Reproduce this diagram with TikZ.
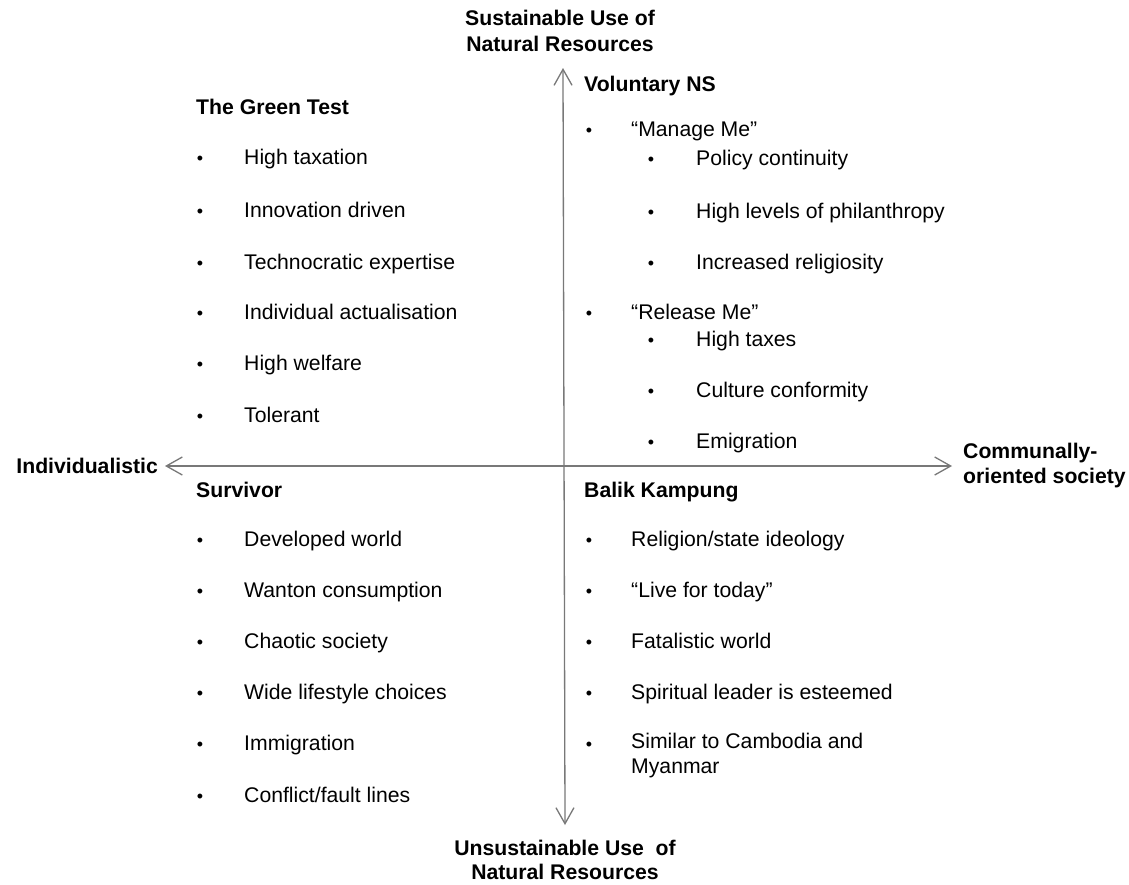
\documentclass[tikz,border=0pt]{standalone}
\usepackage{fontspec}
\setmainfont{Liberation Sans}
\usetikzlibrary{arrows.meta}
\definecolor{axisgray}{RGB}{120,120,120}
\newcommand{\txtfont}{\fontsize{21.2}{25}\selectfont}
\newcommand{\hdfont}{\fontsize{21.2}{25}\selectfont\bfseries}
\begin{document}
\begin{tikzpicture}[x=1pt,y=-1pt,
  axis/.style={draw=axisgray, line width=1.3pt,
     {Straight Barb[length=16pt,width=18pt]}-{Straight Barb[length=16pt,width=18pt]}},
  itm/.style={anchor=base west, inner sep=0pt, font=\txtfont},
  hd/.style={anchor=base west, inner sep=0pt, font=\hdfont},
  bul/.style={anchor=base, inner sep=0pt, font=\fontsize{18}{20}\selectfont},
  axlab/.style={inner sep=0pt, align=center}]
\useasboundingbox (0,0) rectangle (1129,884);
\fill[white] (0,0) rectangle (1129,884);

% axes
\coordinate (top) at (563,68);
\coordinate (bot) at (565,825);
\coordinate (lft) at (165,466);
\coordinate (rgt) at (952,466);
\draw[axis] (bot) -- (top);
\draw[axis] (lft) -- (rgt);

% axis labels
\node[axlab, anchor=center, font=\fontsize{21.2}{26}\selectfont\bfseries] (toplab) at (560,31) {Sustainable Use of\\Natural Resources};
\node[axlab, anchor=center, font=\fontsize{21.2}{24}\selectfont\bfseries] (botlab) at (565,860) {Unsustainable Use\ \ of\\Natural Resources};
\node[hd, anchor=base east] (leftlab) at (158,473) {Individualistic};
\node[inner sep=0pt, anchor=west, align=left, font=\fontsize{21.2}{25}\selectfont\bfseries] (rightlab) at (963,466) {Communally-\\oriented society};

% Top-left quadrant
\node[hd] (gt) at (196,114) {The Green Test};
\foreach \y/\t [count=\i] in {164/High taxation, 217/Innovation driven, 269/Technocratic expertise, 319/Individual actualisation, 370/High welfare, 422/Tolerant}{
  \node[bul] (gtb\i) at (200,\y) {•};
  \node[itm] (gti\i) at (244,\y) {\t};
}

% Bottom-left quadrant
\node[hd] (sv) at (196,497) {Survivor};
\foreach \y/\t [count=\i] in {546/Developed world, 597/Wanton consumption, 648/Chaotic society, 699/Wide lifestyle choices, 750/Immigration, 802/{Conflict/fault lines}}{
  \node[bul] (svb\i) at (200,\y) {•};
  \node[itm] (svi\i) at (244,\y) {\t};
}

% Top-right quadrant
\node[hd] (vn) at (584,91) {Voluntary NS};
\node[bul] (mmb) at (589,136) {•};
\node[itm] (mm) at (631,136) {“Manage Me”};
\foreach \y/\t [count=\i] in {165/Policy continuity, 218/High levels of philanthropy, 269/Increased religiosity}{
  \node[bul] (mmb\i) at (651,\y) {•};
  \node[itm] (mmi\i) at (696,\y) {\t};
}
\node[bul] (rmb) at (589,319) {•};
\node[itm] (rm) at (631,319) {“Release Me”};
\foreach \y/\t [count=\i] in {346/High taxes, 397/Culture conformity, 448/Emigration}{
  \node[bul] (rmb\i) at (651,\y) {•};
  \node[itm] (rmi\i) at (696,\y) {\t};
}

% Bottom-right quadrant
\node[hd] (bk) at (584,497) {Balik Kampung};
\foreach \y/\t [count=\i] in {546/{Religion/state ideology}, 597/“Live for today”, 648/Fatalistic world, 699/Spiritual leader is esteemed}{
  \node[bul] (bkb\i) at (589,\y) {•};
  \node[itm] (bki\i) at (631,\y) {\t};
}
\node[inner sep=0pt, anchor=west, align=left, font=\fontsize{21.2}{25}\selectfont] (bki5) at (631,756) {Similar to Cambodia and\\Myanmar};
\node[bul] (bkb5) at (589,750) {•};
\end{tikzpicture}
\end{document}
